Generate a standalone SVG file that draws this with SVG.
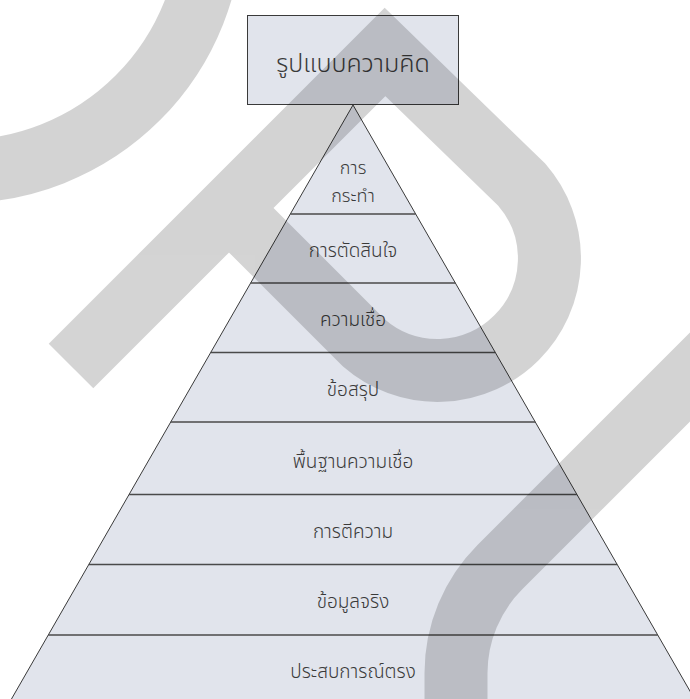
<svg xmlns="http://www.w3.org/2000/svg" width="690" height="699" viewBox="0 0 690 699">
  <style>
    .tier { fill: #e1e4ec; }
    .outline { fill: none; stroke: #3a3a3a; stroke-width: 1; }
    .divider { stroke: #4a4a4a; stroke-width: 1.3; }
    .label { font-family: "Noto Sans Thai", "Noto Sans", "DejaVu Sans", sans-serif; font-size: 19px; font-weight: 300; fill: #3a3a3a; text-anchor: middle; }
    .small { font-size: 18px; }
    .title { font-size: 25px; }
    .mark { fill: none; stroke: #000; stroke-width: 63; stroke-linejoin: miter; stroke-linecap: butt; }
  </style>

  <rect x="0" y="0" width="690" height="699" fill="#ffffff"/>

  <!-- pyramid tiers, apex at (353,105), half-width = 0.575 * (y - 105) -->
  <g id="tier-action">
    <polygon class="tier" points="353,105 415.7,214 290.3,214"/>
    <text class="label small" x="353" y="174">การ</text>
    <text class="label small" x="353" y="202">กระทำ</text>
  </g>
  <g id="tier-decision">
    <polygon class="tier" points="290.3,214 415.7,214 455.4,283 250.6,283"/>
    <text class="label" x="353" y="256.5">การตัดสินใจ</text>
  </g>
  <g id="tier-belief">
    <polygon class="tier" points="250.6,283 455.4,283 495.3,352.5 210.7,352.5"/>
    <text class="label" x="353" y="326">ความเชื่อ</text>
  </g>
  <g id="tier-conclusion">
    <polygon class="tier" points="210.7,352.5 495.3,352.5 535.3,422 170.7,422"/>
    <text class="label" x="353" y="396">ข้อสรุป</text>
  </g>
  <g id="tier-assumption">
    <polygon class="tier" points="170.7,422 535.3,422 577,494.5 129,494.5"/>
    <text class="label" x="353" y="468">พื้นฐานความเชื่อ</text>
  </g>
  <g id="tier-interpretation">
    <polygon class="tier" points="129,494.5 577,494.5 617.2,564.5 88.8,564.5"/>
    <text class="label" x="353" y="538">การตีความ</text>
  </g>
  <g id="tier-fact">
    <polygon class="tier" points="88.8,564.5 617.2,564.5 657.8,635 48.2,635"/>
    <text class="label" x="353" y="608">ข้อมูลจริง</text>
  </g>
  <g id="tier-experience">
    <polygon class="tier" points="48.2,635 657.8,635 706.6,720 -0.6,720"/>
    <text class="label" x="353" y="678">ประสบการณ์ตรง</text>
  </g>

  <!-- tier dividers and outer edges -->
  <g id="connectors">
    <polygon class="outline" points="353,105 706.6,720 -0.6,720"/>
    <line class="divider" x1="290.3" y1="214" x2="415.7" y2="214"/>
    <line class="divider" x1="250.6" y1="283" x2="455.4" y2="283"/>
    <line class="divider" x1="210.7" y1="352.5" x2="495.3" y2="352.5"/>
    <line class="divider" x1="170.7" y1="422" x2="535.3" y2="422"/>
    <line class="divider" x1="129" y1="494.5" x2="577" y2="494.5"/>
    <line class="divider" x1="88.8" y1="564.5" x2="617.2" y2="564.5"/>
    <line class="divider" x1="48.2" y1="635" x2="657.8" y2="635"/>
  </g>

  <!-- heading box -->
  <g id="heading">
    <rect x="247.5" y="15.5" width="211" height="89" fill="#e1e4ec" stroke="#3a3a3a" stroke-width="1"/>
    <text class="label title" x="353" y="71.5">รูปแบบความคิด</text>
  </g>

  <!-- translucent background emblem drawn over the page -->
  <g id="emblem" opacity="0.17">
    <circle class="mark" cx="-40" cy="-80" r="251.5"/>
    <path class="mark" d="M71,366 L385,52 L522,185 A112,112 0 0 1 364,343 L251,230"/>
    <path class="mark" d="M730,337 L500,567 A150,150 0 0 0 456,673 L456,720"/>
  </g>
</svg>
